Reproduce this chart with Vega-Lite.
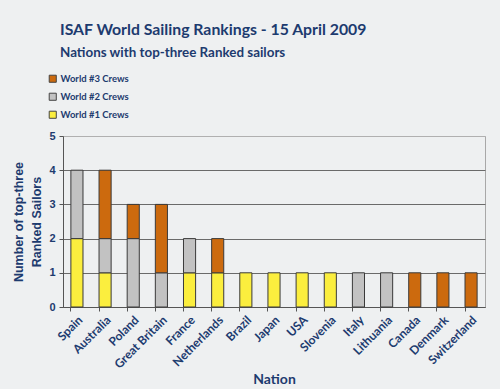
{
  "$schema": "https://vega.github.io/schema/vega-lite/v6.json",
  "width": 422,
  "height": 171,
  "autosize": {"type": "none"},
  "padding": {"left": 63, "top": 136, "right": 15, "bottom": 82},
  "background": "#eef0f1",
  "title": {
    "text": "ISAF World Sailing Rankings - 15 April 2009",
    "subtitle": "Nations with top-three Ranked sailors",
    "anchor": "start",
    "frame": "group",
    "offset": 14,
    "dx": -3,
    "font": "Lato",
    "fontSize": 15.8,
    "fontWeight": "bold",
    "color": "#1d3b6f",
    "subtitleFont": "Lato",
    "subtitleFontSize": 13.4,
    "subtitleFontWeight": "bold",
    "subtitleColor": "#1d3b6f",
    "subtitlePadding": 7
  },
  "data": {
    "values": [
      {"nation": "Spain", "crew": "World #1 Crews", "rank": 1, "count": 2},
      {"nation": "Spain", "crew": "World #2 Crews", "rank": 2, "count": 2},
      {"nation": "Australia", "crew": "World #1 Crews", "rank": 1, "count": 1},
      {"nation": "Australia", "crew": "World #2 Crews", "rank": 2, "count": 1},
      {"nation": "Australia", "crew": "World #3 Crews", "rank": 3, "count": 2},
      {"nation": "Poland", "crew": "World #2 Crews", "rank": 2, "count": 2},
      {"nation": "Poland", "crew": "World #3 Crews", "rank": 3, "count": 1},
      {"nation": "Great Britain", "crew": "World #2 Crews", "rank": 2, "count": 1},
      {"nation": "Great Britain", "crew": "World #3 Crews", "rank": 3, "count": 2},
      {"nation": "France", "crew": "World #1 Crews", "rank": 1, "count": 1},
      {"nation": "France", "crew": "World #2 Crews", "rank": 2, "count": 1},
      {"nation": "Netherlands", "crew": "World #1 Crews", "rank": 1, "count": 1},
      {"nation": "Netherlands", "crew": "World #3 Crews", "rank": 3, "count": 1},
      {"nation": "Brazil", "crew": "World #1 Crews", "rank": 1, "count": 1},
      {"nation": "Japan", "crew": "World #1 Crews", "rank": 1, "count": 1},
      {"nation": "USA", "crew": "World #1 Crews", "rank": 1, "count": 1},
      {"nation": "Slovenia", "crew": "World #1 Crews", "rank": 1, "count": 1},
      {"nation": "Italy", "crew": "World #2 Crews", "rank": 2, "count": 1},
      {"nation": "Lithuania", "crew": "World #2 Crews", "rank": 2, "count": 1},
      {"nation": "Canada", "crew": "World #3 Crews", "rank": 3, "count": 1},
      {"nation": "Denmark", "crew": "World #3 Crews", "rank": 3, "count": 1},
      {"nation": "Switzerland", "crew": "World #3 Crews", "rank": 3, "count": 1}
    ]
  },
  "mark": {"type": "bar", "stroke": "#3a3a3a", "strokeWidth": 1},
  "encoding": {
    "x": {
      "field": "nation",
      "type": "nominal",
      "sort": ["Spain", "Australia", "Poland", "Great Britain", "France", "Netherlands", "Brazil", "Japan", "USA", "Slovenia", "Italy", "Lithuania", "Canada", "Denmark", "Switzerland"],
      "scale": {"paddingInner": 0.57, "paddingOuter": 0.28},
      "axis": {
        "title": "Nation",
        "titleFont": "Lato",
        "titleFontSize": 14,
        "titleFontWeight": "bold",
        "titleColor": "#1d3b6f",
        "titlePadding": 2,
        "labelAngle": -45,
        "labelFont": "Lato",
        "labelFontSize": 12,
        "labelFontWeight": "bold",
        "labelColor": "#1d3b6f",
        "labelPadding": 3,
        "bandPosition": 0,
        "tickSize": 4,
        "tickColor": "#555",
        "domainColor": "#555",
        "grid": false
      }
    },
    "y": {
      "field": "count",
      "type": "quantitative",
      "stack": "zero",
      "scale": {"domain": [0, 5]},
      "axis": {
        "values": [0, 1, 2, 3, 4, 5],
        "title": ["Number of top-three", "Ranked Sailors"],
        "titleFont": "Liberation Sans",
        "titleFontSize": 12.5,
        "titleFontWeight": "bold",
        "titleColor": "#1d3b6f",
        "titleLineHeight": 18,
        "titlePadding": 5,
        "labelFont": "Liberation Sans",
        "labelFontSize": 11,
        "labelFontWeight": "bold",
        "labelColor": "#1d3b6f",
        "labelPadding": 4,
        "tickSize": 4,
        "tickColor": "#555",
        "domainColor": "#555",
        "grid": true,
        "gridColor": {"condition": {"test": "datum.value === 5", "value": "#b0b0b0"}, "value": "#6a6a6a"},
        "gridOpacity": 1
      }
    },
    "color": {
      "field": "crew",
      "type": "nominal",
      "scale": {
        "domain": ["World #3 Crews", "World #2 Crews", "World #1 Crews"],
        "range": ["#cc6a0e", "#c2c2c2", "#fbee3e"]
      },
      "legend": {
        "orient": "none",
        "legendX": -15,
        "legendY": -62,
        "title": null,
        "symbolType": "square",
        "symbolSize": 50,
        "symbolStrokeColor": "#444",
        "symbolStrokeWidth": 1,
        "labelFont": "Lato",
        "labelFontSize": 9.5,
        "labelFontWeight": "bold",
        "labelColor": "#1d3b6f",
        "labelOffset": 3,
        "rowPadding": 6
      }
    },
    "order": {"field": "rank", "type": "quantitative", "sort": "ascending"}
  },
  "config": {
    "view": {"stroke": "#a8a8a8", "strokeWidth": 1}
  }
}
